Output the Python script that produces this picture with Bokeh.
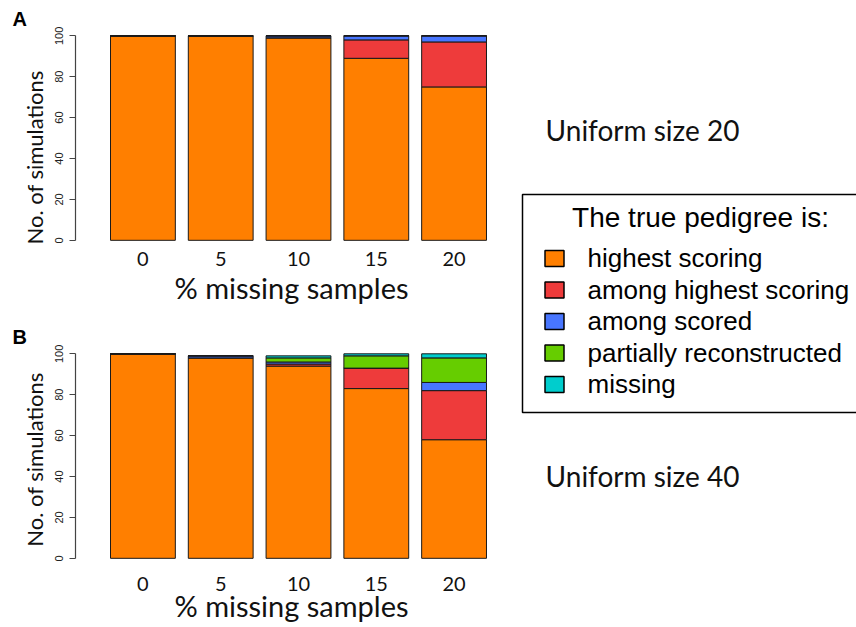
from bokeh.plotting import figure
from bokeh.layouts import row, column
from bokeh.models import Range1d, FixedTicker, ColumnDataSource, Title
from bokeh.core.properties import value
from bokeh.embed import file_html
from bokeh.resources import INLINE

# ---------------- data ----------------
missing_pct = ["0", "5", "10", "15", "20"]
outcomes = ["highest scoring", "among highest scoring", "among scored",
            "partially reconstructed", "missing"]
outcome_colors = ["#FF7F00", "#EE3B3B", "#4876FF", "#66CD00", "#00CDCD"]

size20_highest = [100, 100, 99, 89, 75]
size20_among_highest = [0, 0, 0, 9, 22]
size20_among_scored = [0, 0, 1, 2, 3]
size20_partial = [0, 0, 0, 0, 0]
size20_missing = [0, 0, 0, 0, 0]

size40_highest = [100, 98, 94, 83, 58]
size40_among_highest = [0, 0, 1, 10, 24]
size40_among_scored = [0, 1, 1, 0, 4]
size40_partial = [0, 0, 2, 6, 12]
size40_missing = [0, 0, 1, 1, 2]

y_ticks = [0, 20, 40, 60, 80, 100]
panel_letters = ["A", "B"]
panel_notes = ["Uniform size 20", "Uniform size 40"]
legend_title = "The true pedigree is:"
x_title = "% missing samples"
y_title = "No. of simulations"

# ---------------- layout ----------------
KEYS = ["highest", "among_highest", "among_scored", "partial", "missing"]
X_START, X_END = -0.34, 6.324
SANS_T = "Lato"
SANS_L = "Liberation Sans"


def make_panel(series, height, letter, ytitle_align, ytitle_offset,
               lab_standoff, xt_standoff):
    positions = [0.7 + 1.2 * i for i in range(len(missing_pct))]
    data = dict(x=positions)
    for k, v in zip(KEYS, series):
        data[k] = v
    src = ColumnDataSource(data)

    p = figure(width=513, height=height,
               x_range=Range1d(X_START, X_END), y_range=Range1d(-4, 100.64),
               output_backend="svg", toolbar_location=None,
               min_border_left=75, min_border_right=6,
               min_border_top=30, min_border_bottom=height - 30 - 218)
    p.outline_line_color = None
    p.xgrid.visible = False
    p.ygrid.visible = False

    # panel letter as the figure title
    p.title.text = letter
    p.title.align = "left"
    p.title.offset = -63
    p.title.text_font = SANS_L
    p.title.text_font_style = "bold"
    p.title.text_font_size = "20px"
    p.title.text_color = "black"

    p.vbar_stack(KEYS, x="x", width=1.0, source=src,
                 fill_color=outcome_colors, line_color="#1a1a1a", line_width=1)

    # y axis
    ya = p.yaxis[0]
    ya.ticker = FixedTicker(ticks=y_ticks)
    ya.bounds = (0, 100)
    ya.axis_line_color = "#444444"
    ya.axis_line_width = 1.2
    ya.major_tick_line_color = "#444444"
    ya.major_tick_line_width = 1.2
    ya.major_tick_out = 6
    ya.major_tick_in = 0
    ya.minor_tick_line_color = None
    ya.major_label_orientation = "vertical"
    ya.major_label_text_font = SANS_L
    ya.major_label_text_font_size = "11px"
    ya.major_label_text_color = "#222222"
    ya.major_label_standoff = 6

    yt = Title(text=y_title, align=ytitle_align, offset=ytitle_offset,
               text_font=SANS_T, text_font_size="22px", text_font_style="normal",
               text_color="#111111")
    p.add_layout(yt, "left")

    # x axis
    xa = p.xaxis[0]
    xa.ticker = FixedTicker(ticks=positions)
    xa.major_label_overrides = {pos: lab for pos, lab in zip(positions, missing_pct)}
    xa.axis_line_color = None
    xa.major_tick_line_color = None
    xa.minor_tick_line_color = None
    xa.major_tick_out = 0
    xa.major_tick_in = 0
    xa.major_label_text_font = SANS_T
    xa.major_label_text_font_size = "20px"
    xa.major_label_text_color = "#111111"
    xa.major_label_standoff = lab_standoff
    xa.axis_label = x_title
    xa.axis_label_text_font = SANS_T
    xa.axis_label_text_font_size = "29px"
    xa.axis_label_text_font_style = "normal"
    xa.axis_label_text_color = "#111111"
    xa.axis_label_standoff = xt_standoff
    return p


pA = make_panel([size20_highest, size20_among_highest, size20_among_scored,
                 size20_partial, size20_missing],
                height=318, letter=panel_letters[0],
                ytitle_align="left", ytitle_offset=4, lab_standoff=3, xt_standoff=1)
pB = make_panel([size40_highest, size40_among_highest, size40_among_scored,
                 size40_partial, size40_missing],
                height=309, letter=panel_letters[1],
                ytitle_align="center", ytitle_offset=0, lab_standoff=10, xt_standoff=-6)

# ---------------- right side: notes and legend ----------------
pr = figure(width=343, height=627,
            x_range=Range1d(513, 856), y_range=Range1d(627, 0),
            output_backend="svg", toolbar_location=None,
            min_border=0, x_axis_location=None, y_axis_location=None)
pr.outline_line_color = None
pr.xgrid.visible = False
pr.ygrid.visible = False

pr.text(x=[642, 642], y=[129, 475], text=panel_notes, text_align="center",
        text_baseline="alphabetic", text_font=value(SANS_T), text_font_size="28px",
        text_color="#111111")

pr.quad(left=[522], right=[900], top=[194], bottom=[412], fill_color=None,
        line_color="black", line_width=1.5)
pr.text(x=[700], y=[217], text=[legend_title], text_align="center",
        text_baseline="alphabetic", text_font=value(SANS_L), text_font_size="28px",
        text_color="black")
rows = [258 + 31.5 * i for i in range(len(outcomes))]
pr.rect(x=[554] * len(outcomes), y=rows, width=19, height=16,
        fill_color=outcome_colors, line_color="black", line_width=1.5)
pr.text(x=[587] * len(outcomes), y=[r - 0.5 for r in rows], text=outcomes,
        text_align="left", text_baseline="alphabetic", text_font=value(SANS_L),
        text_font_size="26px", text_color="black")

layout = row(column(pA, pB), pr)
open("out.html", "w").write(file_html(layout, INLINE))
